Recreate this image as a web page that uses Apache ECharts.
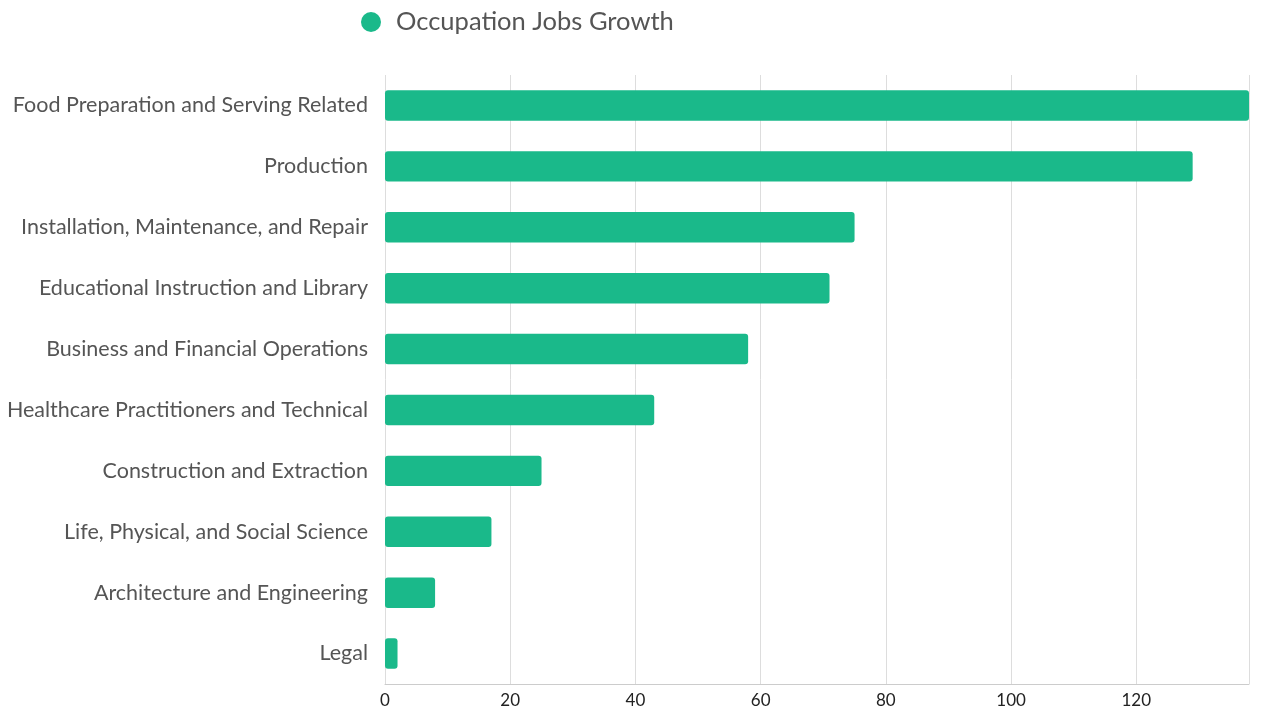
<!DOCTYPE html>
<html>
<head>
<meta charset="utf-8">
<title>Occupation Jobs Growth</title>
<script src="https://cdn.jsdelivr.net/npm/echarts@6/dist/echarts.min.js"></script>
<style>
  html, body { margin: 0; padding: 0; background: #fff; }
  #main { width: 1262px; height: 711px; }
</style>
</head>
<body>
<div id="main"></div>
<script>
// categories listed bottom to top (category axis on y starts at the bottom)
var occupations = [
  'Legal',
  'Architecture and Engineering',
  'Life, Physical, and Social Science',
  'Construction and Extraction',
  'Healthcare Practitioners and Technical',
  'Business and Financial Operations',
  'Educational Instruction and Library',
  'Installation, Maintenance, and Repair',
  'Production',
  'Food Preparation and Serving Related'
];
var jobsGrowth = [2, 8, 17, 25, 43, 58, 71, 75, 129, 138];
var seriesName = 'Occupation Jobs Growth';

var chart = echarts.init(document.getElementById('main'));
chart.setOption({
  textStyle: { fontFamily: 'Lato' },
  legend: {
    top: 4,
    left: 356,
    icon: 'circle',
    itemWidth: 40,
    itemHeight: 20,
    textStyle: { fontSize: 25.5, color: '#555', fontFamily: 'Lato' },
    data: [seriesName]
  },
  grid: { left: 385, right: 13, top: 75, bottom: 27, containLabel: false },
  xAxis: {
    type: 'value',
    min: 0,
    max: 'dataMax',
    interval: 20,
    axisLine: { show: true, lineStyle: { color: '#ccc' } },
    axisTick: { show: false },
    axisLabel: { fontSize: 17, color: '#222', margin: 8, showMaxLabel: false },
    splitLine: { show: true, lineStyle: { color: '#ddd', width: 1 } }
  },
  yAxis: {
    type: 'category',
    data: occupations,
    axisLine: { show: false },
    axisTick: { show: false },
    axisLabel: { fontSize: 21.5, color: '#555', margin: 17, padding: [3, 0, 0, 0] }
  },
  series: [{
    name: seriesName,
    type: 'bar',
    data: jobsGrowth,
    barWidth: '50%',
    itemStyle: { color: '#1ab98a', borderRadius: 3 }
  }]
});
</script>
</body>
</html>
